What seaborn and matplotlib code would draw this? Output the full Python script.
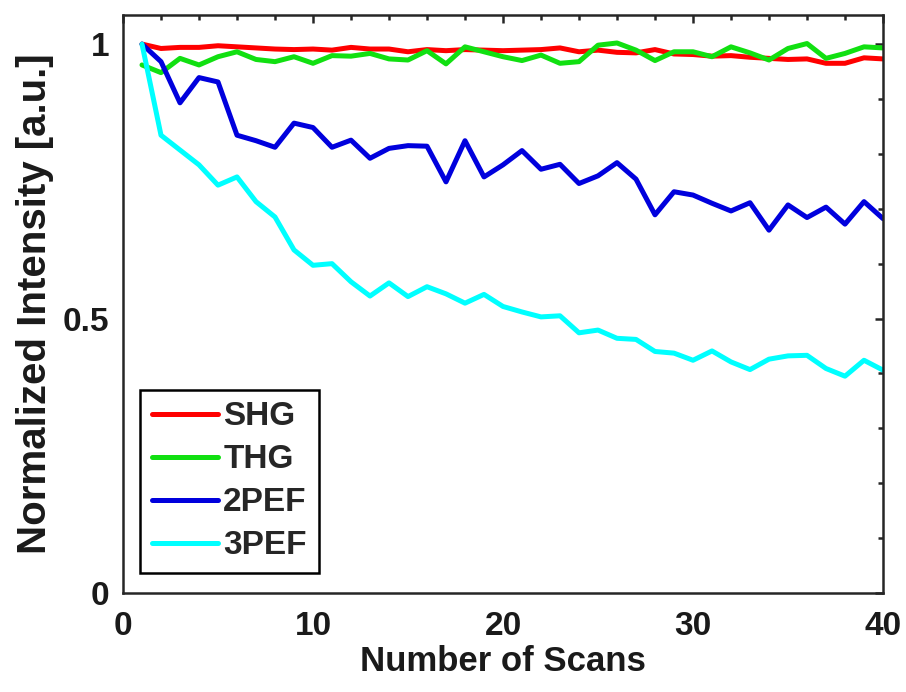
import matplotlib

matplotlib.use("Agg")
import matplotlib.pyplot as plt
import numpy as np
import pandas as pd
import seaborn as sns
from matplotlib.ticker import MultipleLocator, FixedLocator


scans = list(range(1, 41))

shg = [1.000, 0.992, 0.994, 0.994, 0.997, 0.995, 0.993, 0.991, 0.990, 0.991,
       0.989, 0.994, 0.991, 0.991, 0.986, 0.990, 0.988, 0.990, 0.989, 0.988,
       0.989, 0.990, 0.993, 0.986, 0.989, 0.985, 0.984, 0.990, 0.982, 0.981,
       0.978, 0.979, 0.976, 0.974, 0.972, 0.973, 0.965, 0.965, 0.975, 0.973]

thg = [0.962, 0.948, 0.974, 0.962, 0.977, 0.986, 0.972, 0.968, 0.977, 0.965,
       0.979, 0.978, 0.983, 0.973, 0.971, 0.988, 0.964, 0.995, 0.986, 0.977,
       0.970, 0.980, 0.965, 0.968, 0.998, 1.002, 0.989, 0.970, 0.986, 0.986,
       0.977, 0.995, 0.984, 0.971, 0.992, 1.001, 0.974, 0.983, 0.995, 0.993]

pef2 = [1.000, 0.968, 0.893, 0.939, 0.931, 0.834, 0.824, 0.812, 0.856, 0.848,
        0.812, 0.825, 0.792, 0.810, 0.815, 0.814, 0.749, 0.824, 0.758, 0.780,
        0.806, 0.772, 0.781, 0.746, 0.760, 0.784, 0.754, 0.689, 0.731, 0.725,
        0.710, 0.696, 0.711, 0.661, 0.707, 0.684, 0.703, 0.672, 0.713, 0.682]

pef3 = [1.000, 0.834, 0.807, 0.780, 0.743, 0.758, 0.713, 0.685, 0.625, 0.597,
        0.600, 0.567, 0.541, 0.565, 0.540, 0.558, 0.545, 0.528, 0.544, 0.522,
        0.512, 0.503, 0.505, 0.474, 0.479, 0.464, 0.462, 0.440, 0.437, 0.424,
        0.441, 0.421, 0.407, 0.426, 0.432, 0.433, 0.409, 0.395, 0.424, 0.406]

series_names = ["SHG", "THG", "2PEF", "3PEF"]
series_colors = ["#ff0000", "#11e011", "#0000dd", "#00ffff"]

x_ticks = [0, 10, 20, 30, 40]
y_ticks = [0, 0.5, 1]
y_tick_labels = ["0", "0.5", "1"]

df = pd.DataFrame({"Scan": scans, "SHG": shg, "THG": thg, "2PEF": pef2, "3PEF": pef3})
long_df = df.melt(id_vars="Scan", var_name="Signal", value_name="Intensity")

sns.set_theme(style="white")
plt.rcParams["font.family"] = ["Liberation Sans", "DejaVu Sans"]
plt.rcParams["font.weight"] = "bold"

ink = "#262626"

fig = plt.figure(figsize=(9.06, 6.92), dpi=100)
ax = fig.add_axes([123 / 906, 1 - 593 / 692, 760 / 906, 578 / 692])

sns.lineplot(data=long_df, x="Scan", y="Intensity", hue="Signal", hue_order=series_names,
             palette=series_colors, linewidth=3.6, ax=ax)

ax.set_xlim(0, 40)
ax.set_ylim(0, 1.053)
ax.xaxis.set_major_locator(FixedLocator(x_ticks))
ax.xaxis.set_minor_locator(MultipleLocator(2))
ax.set_yticks(y_ticks)
ax.set_yticklabels(y_tick_labels)
ax.yaxis.set_minor_locator(MultipleLocator(0.1))

ax.tick_params(which="both", direction="in", top=True, right=True, width=1.8, color=ink,
               labelsize=24, labelcolor="#1a1a1a")
ax.tick_params(which="major", length=6)
ax.tick_params(which="minor", length=3.5)
ax.tick_params(axis="x", pad=13)
ax.tick_params(axis="y", pad=10)
for lab in ax.get_xticklabels() + ax.get_yticklabels():
    lab.set_fontweight("bold")

for sp in ax.spines.values():
    sp.set_visible(True)
    sp.set_color(ink)
    sp.set_linewidth(1.8)

ax.set_xlabel("Number of Scans", fontsize=25, fontweight="bold", color="#1a1a1a", labelpad=2)
ax.set_ylabel("Normalized Intensity [a.u.]", fontsize=29, fontweight="bold", color="#1a1a1a", labelpad=6)

leg = ax.legend(loc="lower left", bbox_to_anchor=(17 / 760, 20 / 578), borderaxespad=0,
                frameon=True, fancybox=False, framealpha=1, edgecolor="black",
                prop={"size": 24, "weight": "bold"}, handlelength=2.0, handletextpad=0.15,
                labelspacing=0.36, borderpad=0.35, title=None)
leg.get_frame().set_linewidth(1.8)
for line in leg.get_lines():
    line.set_linewidth(3.6)

fig.savefig("out.png", dpi=100)
